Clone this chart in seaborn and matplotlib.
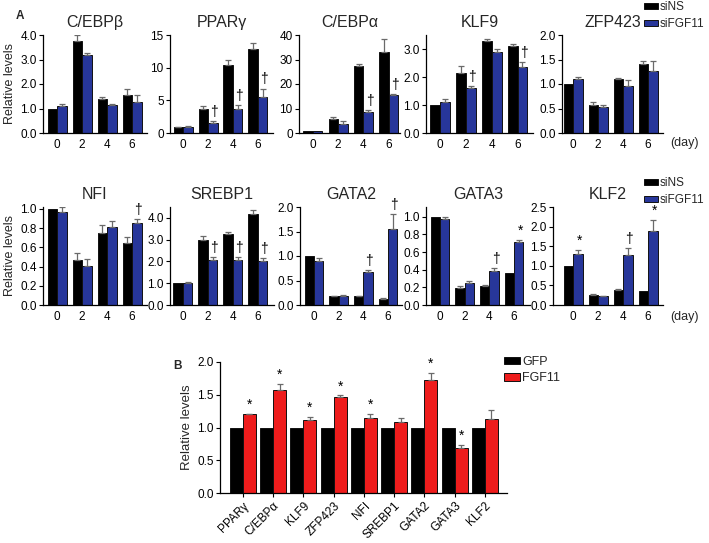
import matplotlib
matplotlib.use('Agg')
import matplotlib.pyplot as plt
import pandas as pd
import seaborn as sns

# ---------------- data ----------------
days = ['0', '2', '4', '6']
groups_a = ['siNS', 'siFGF11']

cebpb_sins = [1.00, 3.75, 1.40, 1.55]
cebpb_sins_err = [0.0, 0.25, 0.05, 0.25]
cebpb_sifgf = [1.12, 3.20, 1.15, 1.27]
cebpb_sifgf_err = [0.06, 0.05, 0.02, 0.30]
cebpb_marks = ['', '', '', '']

pparg_sins = [0.90, 3.70, 10.40, 12.90]
pparg_sins_err = [0.05, 0.50, 0.70, 0.80]
pparg_sifgf = [0.95, 1.60, 3.60, 5.50]
pparg_sifgf_err = [0.10, 0.20, 0.70, 1.30]
pparg_marks = ['', '†', '†', '†']

cebpa_sins = [0.80, 5.70, 27.30, 33.00]
cebpa_sins_err = [0.0, 1.00, 0.80, 5.50]
cebpa_sifgf = [0.80, 3.80, 8.50, 15.50]
cebpa_sifgf_err = [0.0, 1.00, 0.90, 0.30]
cebpa_marks = ['', '', '†', '†']

klf9_sins = [1.00, 2.15, 3.28, 3.10]
klf9_sins_err = [0.0, 0.25, 0.08, 0.07]
klf9_sifgf = [1.12, 1.60, 2.90, 2.35]
klf9_sifgf_err = [0.08, 0.08, 0.10, 0.18]
klf9_marks = ['', '†', '', '†']

zfp423_sins = [1.00, 0.57, 1.10, 1.40]
zfp423_sins_err = [0.0, 0.06, 0.02, 0.06]
zfp423_sifgf = [1.10, 0.53, 0.95, 1.27]
zfp423_sifgf_err = [0.04, 0.04, 0.13, 0.20]
zfp423_marks = ['', '', '', '']

nfi_sins = [1.00, 0.47, 0.75, 0.65]
nfi_sins_err = [0.0, 0.07, 0.08, 0.06]
nfi_sifgf = [0.97, 0.41, 0.81, 0.85]
nfi_sifgf_err = [0.05, 0.07, 0.06, 0.04]
nfi_marks = ['', '', '', '†']

srebp1_sins = [1.00, 3.00, 3.25, 4.20]
srebp1_sins_err = [0.0, 0.15, 0.10, 0.15]
srebp1_sifgf = [1.02, 2.05, 2.05, 2.00]
srebp1_sifgf_err = [0.03, 0.15, 0.15, 0.15]
srebp1_marks = ['', '†', '†', '†']

gata2_sins = [1.00, 0.18, 0.18, 0.13]
gata2_sins_err = [0.0, 0.01, 0.01, 0.02]
gata2_sifgf = [0.90, 0.19, 0.67, 1.55]
gata2_sifgf_err = [0.06, 0.02, 0.04, 0.30]
gata2_marks = ['', '', '†', '†']

gata3_sins = [1.00, 0.19, 0.22, 0.36]
gata3_sins_err = [0.0, 0.02, 0.01, 0.0]
gata3_sifgf = [0.97, 0.25, 0.39, 0.71]
gata3_sifgf_err = [0.03, 0.02, 0.03, 0.03]
gata3_marks = ['', '', '†', '*']

klf2_sins = [1.00, 0.25, 0.37, 0.35]
klf2_sins_err = [0.0, 0.03, 0.05, 0.0]
klf2_sifgf = [1.30, 0.22, 1.27, 1.88]
klf2_sifgf_err = [0.10, 0.02, 0.18, 0.30]
klf2_marks = ['*', '', '†', '*']

genes_b = ['PPARγ', 'C/EBPα', 'KLF9', 'ZFP423', 'NFI', 'SREBP1', 'GATA2', 'GATA3', 'KLF2']
groups_b = ['GFP', 'FGF11']
gfp = [1.0, 1.0, 1.0, 1.0, 1.0, 1.0, 1.0, 1.0, 1.0]
fgf11 = [1.20, 1.57, 1.12, 1.47, 1.15, 1.08, 1.73, 0.68, 1.13]
fgf11_err = [0.01, 0.10, 0.04, 0.02, 0.06, 0.06, 0.10, 0.05, 0.14]
marks_b = ['*', '*', '*', '*', '*', '', '*', '*', '']

# ---------------- style ----------------
sns.set_style('ticks')
plt.rcParams['font.family'] = ['Liberation Sans', 'DejaVu Sans']
BLACK = '#000000'
BLUE = '#27369a'
RED = '#ee1c1c'
ERR = '#6a6a6a'

W, H = 709, 543
fig = plt.figure(figsize=(W / 100, H / 100), dpi=100)


def add_ax(left, top, w, h):
    return fig.add_axes([left / W, 1 - (top + h) / H, w / W, h / H])


def style_ax(ax, ylim, yticks, fmt, xlim, xtick_len=0):
    ax.set_ylim(*ylim)
    ax.set_xlim(*xlim)
    ax.set_yticks(yticks)
    ax.set_yticklabels([fmt.format(t) for t in yticks])
    ax.tick_params(axis='y', direction='out', length=3, width=0.8, labelsize=8.5, pad=1.5, colors='black')
    ax.tick_params(axis='x', direction='out', length=xtick_len, width=0.8, labelsize=8.5, pad=4, colors='black')
    for s in ['top', 'right']:
        ax.spines[s].set_visible(False)
    for s in ['left', 'bottom']:
        ax.spines[s].set_linewidth(0.9)
        ax.spines[s].set_color('black')
    ax.set_xlabel('')
    ax.set_ylabel('')


def draw_errors(ax, container, errs):
    for bar, e in zip(container, errs):
        if e > 0:
            x = bar.get_x() + bar.get_width() / 2
            y = bar.get_height()
            ax.errorbar(x, y, yerr=[[0], [e]], fmt='none', ecolor=ERR,
                        elinewidth=0.9, capsize=2.2, capthick=0.9)


def draw_marks(ax, container, errs, marks, fs=10, dx=1.0):
    for bar, e, m in zip(container, errs, marks):
        if m:
            x = bar.get_x() + bar.get_width() / 2
            y = bar.get_height() + e
            ax.annotate(m, (x, y), xytext=(dx, 1.5), textcoords='offset points',
                        ha='center', va='bottom', fontsize=fs, color='black')


def panel_a(ax, title, sins, sins_err, sifgf, sifgf_err, marks, ylim, yticks, fmt, xlim):
    df = pd.DataFrame({'day': days + days,
                       'group': [groups_a[0]] * 4 + [groups_a[1]] * 4,
                       'value': sins + sifgf})
    sns.barplot(data=df, x='day', y='value', hue='group', order=days, hue_order=groups_a,
                palette=[BLACK, BLUE], errorbar=None, width=0.76, saturation=1,
                edgecolor='#111111', linewidth=0.7, ax=ax, legend=False)
    draw_errors(ax, ax.containers[0], sins_err)
    draw_errors(ax, ax.containers[1], sifgf_err)
    draw_marks(ax, ax.containers[1], sifgf_err, marks)
    style_ax(ax, ylim, yticks, fmt, xlim)
    ax.set_title(title, fontsize=11.5, pad=6)


f1 = '{:.1f}'
f0 = '{:.0f}'

# Row 1
panel_a(add_ax(43, 35, 104, 98), 'C/EBPβ', cebpb_sins, cebpb_sins_err, cebpb_sifgf, cebpb_sifgf_err,
        cebpb_marks, (0, 4.0), [0, 1, 2, 3, 4], f1, (-0.56, 3.6))
panel_a(add_ax(170, 35, 103, 98), 'PPARγ', pparg_sins, pparg_sins_err, pparg_sifgf, pparg_sifgf_err,
        pparg_marks, (0, 15), [0, 5, 10, 15], f0, (-0.52, 3.6))
panel_a(add_ax(299, 35, 101, 98), 'C/EBPα', cebpa_sins, cebpa_sins_err, cebpa_sifgf, cebpa_sifgf_err,
        cebpa_marks, (0, 40), [0, 10, 20, 30, 40], f0, (-0.55, 3.45))
panel_a(add_ax(426, 35, 107, 98), 'KLF9', klf9_sins, klf9_sins_err, klf9_sifgf, klf9_sifgf_err,
        klf9_marks, (0, 3.5), [0, 1, 2, 3], f1, (-0.55, 3.6))
panel_a(add_ax(562, 35, 101, 98), 'ZFP423', zfp423_sins, zfp423_sins_err, zfp423_sifgf, zfp423_sifgf_err,
        zfp423_marks, (0, 2.0), [0, 0.5, 1.0, 1.5, 2.0], f1, (-0.44, 3.6))

# Row 2
panel_a(add_ax(43, 207, 104, 98), 'NFI', nfi_sins, nfi_sins_err, nfi_sifgf, nfi_sifgf_err,
        nfi_marks, (0, 1.02), [0, 0.2, 0.4, 0.6, 0.8, 1.0], f1, (-0.56, 3.6))
panel_a(add_ax(170, 207, 104, 98), 'SREBP1', srebp1_sins, srebp1_sins_err, srebp1_sifgf, srebp1_sifgf_err,
        srebp1_marks, (0, 4.5), [0, 1, 2, 3, 4], f1, (-0.52, 3.65))
panel_a(add_ax(300, 207, 102, 98), 'GATA2', gata2_sins, gata2_sins_err, gata2_sifgf, gata2_sifgf_err,
        gata2_marks, (0, 2.0), [0, 0.5, 1.0, 1.5, 2.0], f1, (-0.57, 3.57))
panel_a(add_ax(426, 207, 104, 98), 'GATA3', gata3_sins, gata3_sins_err, gata3_sifgf, gata3_sifgf_err,
        gata3_marks, (0, 1.11), [0, 0.2, 0.4, 0.6, 0.8, 1.0], f1, (-0.57, 3.65))
panel_a(add_ax(553, 207, 110, 98), 'KLF2', klf2_sins, klf2_sins_err, klf2_sifgf, klf2_sifgf_err,
        klf2_marks, (0, 2.5), [0, 0.5, 1.0, 1.5, 2.0, 2.5], f1, (-0.8, 3.6))

axes_a = fig.axes
axes_a[0].set_ylabel('Relative levels', fontsize=9, labelpad=3)
axes_a[5].set_ylabel('Relative levels', fontsize=9, labelpad=3)

# legends + (day) labels
for ax_src, ytop in [(axes_a[4], 1), (axes_a[9], 177)]:
    handles = [ax_src.containers[0][0], ax_src.containers[1][0]]
    fig.legend(handles, groups_a, loc='upper left', bbox_to_anchor=(644 / W, 1 - ytop / H),
               frameon=False, fontsize=8.5, handlelength=1.15, handleheight=0.4,
               handletextpad=0.15, labelspacing=0.45, borderpad=0.0, borderaxespad=0)
fig.text(670 / W, 1 - 143 / H, '(day)', fontsize=9, va='center', ha='left')
fig.text(670 / W, 1 - 317 / H, '(day)', fontsize=9, va='center', ha='left')
fig.text(16 / W, 1 - 16 / H, 'A', fontsize=8.5, fontweight='bold', va='center', ha='left')
fig.text(173 / W, 1 - 366 / H, 'B', fontsize=8.5, fontweight='bold', va='center', ha='left')

# Panel B
axb = add_ax(220, 362, 287, 131)
dfb = pd.DataFrame({'gene': genes_b + genes_b,
                    'group': [groups_b[0]] * len(genes_b) + [groups_b[1]] * len(genes_b),
                    'value': gfp + fgf11})
sns.barplot(data=dfb, x='gene', y='value', hue='group', order=genes_b, hue_order=groups_b,
            palette=[BLACK, RED], errorbar=None, width=0.86, saturation=1,
            edgecolor='#111111', linewidth=0.7, ax=axb, legend=False)
draw_errors(axb, axb.containers[1], fgf11_err)
draw_marks(axb, axb.containers[1], fgf11_err, marks_b, fs=10, dx=0)
style_ax(axb, (0, 2.0), [0, 0.5, 1.0, 1.5, 2.0], f1, (-0.76, 8.73), xtick_len=3)
axb.set_xticks(range(len(genes_b)))
axb.set_xticklabels(genes_b, rotation=45, ha='right', rotation_mode='anchor', fontsize=8.5)
axb.tick_params(axis='x', pad=2)
axb.set_ylabel('Relative levels', fontsize=9.5, labelpad=3)
fig.legend([axb.containers[0][0], axb.containers[1][0]], groups_b, loc='upper left',
           bbox_to_anchor=(504 / W, 1 - 356 / H), frameon=False, fontsize=9,
           handlelength=1.3, handleheight=0.5, handletextpad=0.15, labelspacing=0.35,
           borderpad=0.0, borderaxespad=0)

fig.savefig('out.png', dpi=100)
